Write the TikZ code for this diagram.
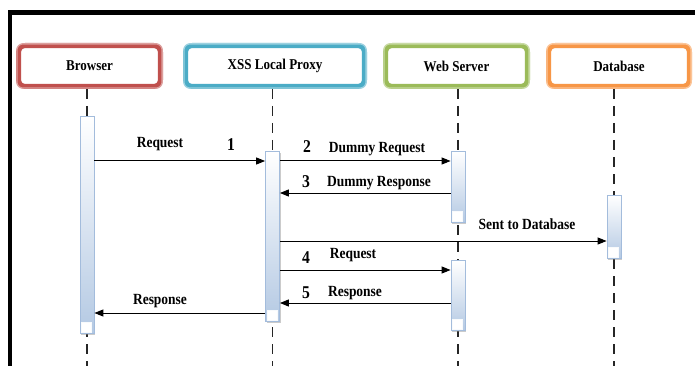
\documentclass[tikz,border=0pt]{standalone}
\usepackage{fontspec}
\setmainfont{Liberation Serif}
\newfontfamily\lblfont[FakeStretch=0.87]{Liberation Serif}
\usetikzlibrary{arrows.meta,shadows}

\definecolor{cred}{HTML}{C0504D}
\definecolor{cblue}{HTML}{4BACC6}
\definecolor{cgreen}{HTML}{9BBB59}
\definecolor{corange}{HTML}{F79646}
\definecolor{barfill}{HTML}{B4C9E3}
\definecolor{baredge}{HTML}{A3BCDC}

\begin{document}
\begin{tikzpicture}[x=1pt,y=-1pt,
  head/.style={draw=#1, line width=4.5pt, rounded corners=7pt, fill=white,
    minimum height=41.5pt, inner sep=0pt,
    font=\lblfont\bfseries\fontsize{15}{17}\selectfont},
  headinner/.style={draw=#1, line width=1pt, rounded corners=4pt},
  headlight/.style={draw=#1!55, line width=1.3pt, rounded corners=6pt},
  actbar/.style={draw=baredge, line width=0.8pt, top color=white, bottom color=barfill,
    minimum width=14pt, inner sep=0pt, anchor=north,
    drop shadow={shadow xshift=1.2pt, shadow yshift=-1.5pt, fill=black!45, opacity=.45}},
  lifeline/.style={draw=black!85, line width=1.1pt, dash pattern=on 10pt off 7pt},
  msg/.style={draw=black, line width=1pt, -{Triangle[length=9pt,width=7pt]}},
  lbl/.style={anchor=base, inner sep=0pt, font=\lblfont\bfseries\fontsize{15.5}{17}\selectfont},
  num/.style={anchor=base, inner sep=0pt, font=\lblfont\bfseries\fontsize{18}{20}\selectfont},
]
\useasboundingbox (0,0) rectangle (695,366);

% frame edges
\draw[line width=4.5pt, line join=miter] (10,366) -- (10,12.5) -- (695,12.5);

% participant heads
\node[head=cred,    minimum width=142.5pt] (hB) at (89.5,66) {Browser};
\node[head=cblue,   minimum width=179.5pt] (hP) at (275,66)  {XSS Local Proxy};
\node[head=cgreen,  minimum width=142.5pt] (hW) at (456.5,66) {Web Server};
\node[head=corange, minimum width=141.5pt] (hD) at (619,66) {Database};
\foreach \h/\c in {hB/cred, hP/cblue, hW/cgreen, hD/corange}{
  \draw[headlight=\c] ([shift={(0.9pt,0.9pt)}]\h.south west) rectangle ([shift={(-0.9pt,-0.9pt)}]\h.north east);
  \draw[headinner=\c] ([shift={(4.6pt,4.6pt)}]\h.south west) rectangle ([shift={(-4.6pt,-4.6pt)}]\h.north east);
}

% lifeline anchors
\coordinate (lB) at (87,89);
\coordinate (lP) at (272.5,89);
\coordinate (lW) at (458,89);
\coordinate (lD) at (614,89);
\foreach \l in {lB,lP,lW,lD}
  \draw[lifeline] (\l) -- (\l |- 0,366);

% activation bars
\node[actbar, minimum height=217pt] (bB)  at (87,116) {};
\node[actbar, minimum height=170pt] (bP)  at (272.5,151) {};
\node[actbar, minimum height=71pt]  (bW1) at (458,151) {};
\node[actbar, minimum height=70pt]  (bW2) at (458,260) {};
\node[actbar, minimum height=63pt]  (bD)  at (614,195) {};
\foreach \b in {bB,bP,bW1,bW2,bD}
  \draw[white!90!barfill, fill=white, line width=0.5pt] ([shift={(2pt,2pt)}]\b.south west) rectangle +(10pt,10pt);

% message rows
\coordinate (y1) at (0,161);
\coordinate (y3) at (0,193);
\coordinate (ys) at (0,241);
\coordinate (y4) at (0,270);
\coordinate (y5) at (0,303);
\coordinate (yr) at (0,313);

\draw[msg] (bB.east |- y1) -- (bP.west |- y1);
\draw[msg] (bP.east |- y1) -- (bW1.west |- y1);
\draw[msg] (bW1.west |- y3) -- (bP.east |- y3);
\draw[msg] (bP.east |- ys) -- (bD.west |- ys);
\draw[msg] (bP.east |- y4) -- (bW2.west |- y4);
\draw[msg] (bW2.west |- y5) -- (bP.east |- y5);
\draw[msg] (bP.west |- yr) -- (bB.east |- yr);

% labels
\node[lbl] (t1) at (160,148) {Request};
\node[num] (n1) at (231,151) {1};
\node[num] (n2) at (307,153) {2};
\node[lbl] (t2) at (377,153) {Dummy Request};
\node[num] (n3) at (306,187) {3};
\node[lbl] (t3) at (379,186) {Dummy Response};
\node[lbl] (ts) at (527,229) {Sent to Database};
\node[num] (n4) at (306,263) {4};
\node[lbl] (t4) at (353,258) {Request};
\node[num] (n5) at (306,298) {5};
\node[lbl] (t5) at (355,296) {Response};
\node[lbl] (tr) at (160,304) {Response};
\end{tikzpicture}
\end{document}
